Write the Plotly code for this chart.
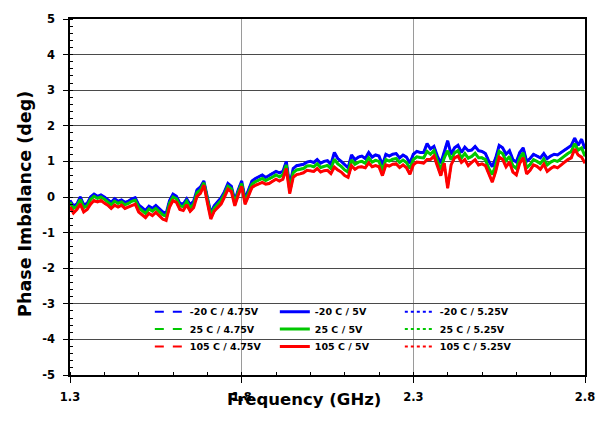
import numpy as np
import plotly.graph_objects as go

# Frequency sweep (GHz)
freq = np.round(np.arange(1.30, 2.8001, 0.01), 2)

# -20 C / 5V (blue)
blue_5v = [-0.1, -0.25, -0.2, 0.0, -0.22, -0.18, 0.0, 0.08, 0.02, 0.06,
           0.0, -0.08, -0.15, -0.05, -0.12, -0.08, -0.15, -0.12, -0.05, -0.02,
           -0.22, -0.3, -0.38, -0.26, -0.32, -0.24, -0.33, -0.42, -0.46, -0.1,
           0.08, 0.02, -0.18, -0.2, -0.05, -0.22, -0.12, 0.2, 0.28, 0.45,
           0.0, -0.45, -0.25, -0.12, -0.02, 0.15, 0.38, 0.3, -0.1, 0.2,
           0.45, -0.05, 0.22, 0.45, 0.52, 0.58, 0.62, 0.55, 0.6, 0.66,
           0.72, 0.68, 0.72, 1.0, 0.3, 0.8, 0.88, 0.9, 0.92, 0.98,
           1.0, 0.97, 1.05, 0.95, 1.0, 1.02, 0.92, 1.25, 1.08, 1.0,
           0.9, 0.82, 1.18, 1.05, 1.12, 1.15, 1.08, 1.25, 1.12, 1.18,
           1.15, 0.9, 1.2, 1.15, 1.2, 1.22, 1.1, 1.18, 1.12, 0.95,
           1.2, 1.28, 1.25, 1.25, 1.5, 1.35, 1.42, 1.15, 0.95, 1.25,
           1.58, 1.2, 1.38, 1.45, 1.25, 1.4, 1.3, 1.32, 1.42, 1.3,
           1.28, 1.22, 1.0, 0.85, 1.1, 1.45, 1.38, 1.2, 1.3, 1.05,
           0.98, 1.25, 1.38, 1.0, 1.08, 1.2, 1.15, 1.1, 1.22, 1.08,
           1.15, 1.2, 1.18, 1.25, 1.32, 1.38, 1.45, 1.65, 1.45, 1.62,
           1.35]

# 25 C / 5V (green)
green_5v = [-0.15, -0.32, -0.26, -0.07, -0.3, -0.25, -0.07, 0.02, -0.04, 0.0,
            -0.06, -0.13, -0.22, -0.12, -0.18, -0.14, -0.22, -0.18, -0.12, -0.09,
            -0.3, -0.38, -0.46, -0.34, -0.4, -0.32, -0.4, -0.5, -0.54, -0.18,
            0.0, -0.05, -0.25, -0.27, -0.12, -0.3, -0.2, 0.12, 0.2, 0.4,
            -0.06, -0.52, -0.32, -0.2, -0.1, 0.08, 0.3, 0.23, -0.17, 0.13,
            0.38, -0.12, 0.14, 0.36, 0.43, 0.48, 0.52, 0.46, 0.5, 0.56,
            0.62, 0.57, 0.62, 0.9, 0.2, 0.68, 0.76, 0.78, 0.8, 0.87,
            0.88, 0.85, 0.93, 0.83, 0.87, 0.89, 0.8, 1.06, 0.93, 0.86,
            0.76, 0.7, 1.04, 0.92, 0.98, 1.0, 0.95, 1.1, 0.98, 1.03,
            1.0, 0.75, 1.05, 1.01, 1.06, 1.08, 0.97, 1.04, 0.97, 0.8,
            1.05, 1.13, 1.11, 1.1, 1.28, 1.2, 1.3, 1.0, 0.78, 1.1,
            1.3, 1.05, 1.24, 1.3, 1.1, 1.22, 1.09, 1.14, 1.23, 1.1,
            1.1, 1.05, 0.8, 0.63, 0.9, 1.28, 1.22, 1.02, 1.14, 0.88,
            0.8, 1.1, 1.24, 0.82, 0.91, 1.05, 1.0, 0.94, 1.07, 0.9,
            0.98, 1.03, 1.0, 1.08, 1.15, 1.22, 1.28, 1.5, 1.32, 1.38,
            1.15]

# 105 C / 5V (red)
red_5v = [-0.28, -0.45, -0.35, -0.2, -0.42, -0.35, -0.2, -0.1, -0.14, -0.1,
          -0.17, -0.23, -0.32, -0.23, -0.28, -0.23, -0.32, -0.28, -0.22, -0.2,
          -0.42, -0.5, -0.58, -0.46, -0.52, -0.43, -0.52, -0.62, -0.66, -0.28,
          -0.1, -0.15, -0.35, -0.38, -0.22, -0.4, -0.3, 0.02, 0.1, 0.33,
          -0.15, -0.62, -0.4, -0.3, -0.2, 0.0, 0.22, 0.15, -0.25, 0.05,
          0.3, -0.2, 0.05, 0.27, 0.33, 0.38, 0.41, 0.36, 0.38, 0.44,
          0.5, 0.45, 0.5, 0.8, 0.1, 0.55, 0.63, 0.65, 0.68, 0.75,
          0.74, 0.72, 0.8, 0.7, 0.74, 0.75, 0.66, 0.84, 0.76, 0.7,
          0.6, 0.55, 0.88, 0.78, 0.84, 0.85, 0.82, 0.96, 0.85, 0.88,
          0.85, 0.6, 0.9, 0.87, 0.92, 0.93, 0.83, 0.9, 0.82, 0.64,
          0.9, 0.98, 0.97, 0.95, 1.05, 1.05, 1.15, 0.85, 0.6, 0.95,
          0.25, 0.9, 1.1, 1.15, 0.97, 1.05, 0.88, 0.97, 1.05, 0.9,
          0.93, 0.88, 0.62, 0.42, 0.72, 1.12, 1.06, 0.85, 0.98, 0.7,
          0.62, 0.95, 1.1, 0.65, 0.75, 0.9, 0.86, 0.78, 0.92, 0.72,
          0.8, 0.86, 0.82, 0.9, 0.98, 1.05, 1.1, 1.35, 1.18, 1.12,
          0.95]

# The 4.75V and 5.25V curves lie on top of the 5V curves at this scale
blue_475, blue_525 = list(blue_5v), list(blue_5v)
green_475, green_525 = list(green_5v), list(green_5v)
red_475, red_525 = list(red_5v), list(red_5v)

# Tick labels
x_tickvals = [1.3, 1.8, 2.3, 2.8]
x_ticktext = ["1.3", "1.8", "2.3", "2.8"]
y_tickvals = [-5, -4, -3, -2, -1, 0, 1, 2, 3, 4, 5]
y_ticktext = ["-5", "-4", "-3", "-2", "-1", "0", "1", "2", "3", "4", "5"]

temps = ["-20 C", "25 C", "105 C"]
colors = ["#0000FF", "#00C800", "#FF0000"]
series = {
    "-20 C": {"4.75V": blue_475, "5V": blue_5v, "5.25V": blue_525},
    "25 C": {"4.75V": green_475, "5V": green_5v, "5.25V": green_525},
    "105 C": {"4.75V": red_475, "5V": red_5v, "5.25V": red_525},
}
legend_ids = ["legend", "legend2", "legend3"]
styles = {"4.75V": ("dash", 2, 1), "5V": ("solid", 3, 2), "5.25V": ("dot", 2, 3)}

FONT = "DejaVu Sans"
fig = go.Figure()
for ti, t in enumerate(temps):
    for v in ["4.75V", "5.25V", "5V"]:
        dash, w, rank = styles[v]
        fig.add_trace(go.Scatter(
            x=freq, y=series[t][v], mode="lines",
            name=f"{t} / {v}",
            line=dict(color=colors[ti], width=w, dash=dash),
            legend=legend_ids[ti], legendrank=rank,
        ))

leg_common = dict(orientation="h", xanchor="left", yanchor="middle",
                  entrywidth=80, entrywidthmode="pixels",
                  bgcolor="rgba(0,0,0,0)", borderwidth=0,
                  font=dict(family=FONT, size=9.5, color="black", weight="bold"),
                  itemwidth=30, traceorder="normal")
row_y = [310.7, 328.3, 346.0]
top_px, bot_px = 13, 375
layout_legends = {}
for i, lid in enumerate(legend_ids):
    yp = (bot_px - row_y[i]) / (bot_px - top_px)
    layout_legends[lid] = dict(leg_common, x=0.155, y=yp)

fig.update_layout(
    width=611, height=425,
    margin=dict(l=70, r=26, t=13, b=50),
    paper_bgcolor="white", plot_bgcolor="white",
    showlegend=True,
    **layout_legends,
    xaxis=dict(
        range=[1.3, 2.8], tickmode="array", tickvals=x_tickvals, ticktext=x_ticktext,
        showgrid=True, gridcolor="#9a9a9a", gridwidth=1,
        showline=True, linecolor="black", linewidth=1.5, mirror=True,
        ticks="outside", ticklen=6, tickcolor="black", tickwidth=1,
        ticklabelstandoff=4,
        minor=dict(dtick=0.1, tick0=1.3, ticks="inside", ticklen=3, tickcolor="black", showgrid=False),
        tickfont=dict(family=FONT, size=11.5, color="black", weight="bold"),
        zeroline=False,
    ),
    yaxis=dict(
        range=[-5, 5], tickmode="array", tickvals=y_tickvals, ticktext=y_ticktext,
        showgrid=True, gridcolor="#4a4a4a", gridwidth=1,
        showline=True, linecolor="black", linewidth=1.5, mirror=True,
        ticks="outside", ticklen=5, tickcolor="black", tickwidth=1,
        ticklabelstandoff=6,
        minor=dict(dtick=0.2, tick0=0, ticks="inside", ticklen=3, tickcolor="black", showgrid=False),
        tickfont=dict(family=FONT, size=11.5, color="black", weight="bold"),
        zeroline=False,
    ),
    annotations=[
        dict(text="Frequency (GHz)", xref="paper", yref="paper",
             x=(304 - 70) / 515, y=(375 - 388) / 362, xanchor="center", yanchor="top",
             showarrow=False,
             font=dict(family=FONT, size=16.5, color="black", weight="bold")),
        dict(text="Phase Imbalance (deg)", xref="paper", yref="paper",
             x=(25 - 70) / 515, y=(375 - 201) / 362, xanchor="center", yanchor="middle",
             textangle=-90, showarrow=False,
             font=dict(family=FONT, size=17.5, color="black", weight="bold")),
    ],
)

fig.write_html("out.html")
